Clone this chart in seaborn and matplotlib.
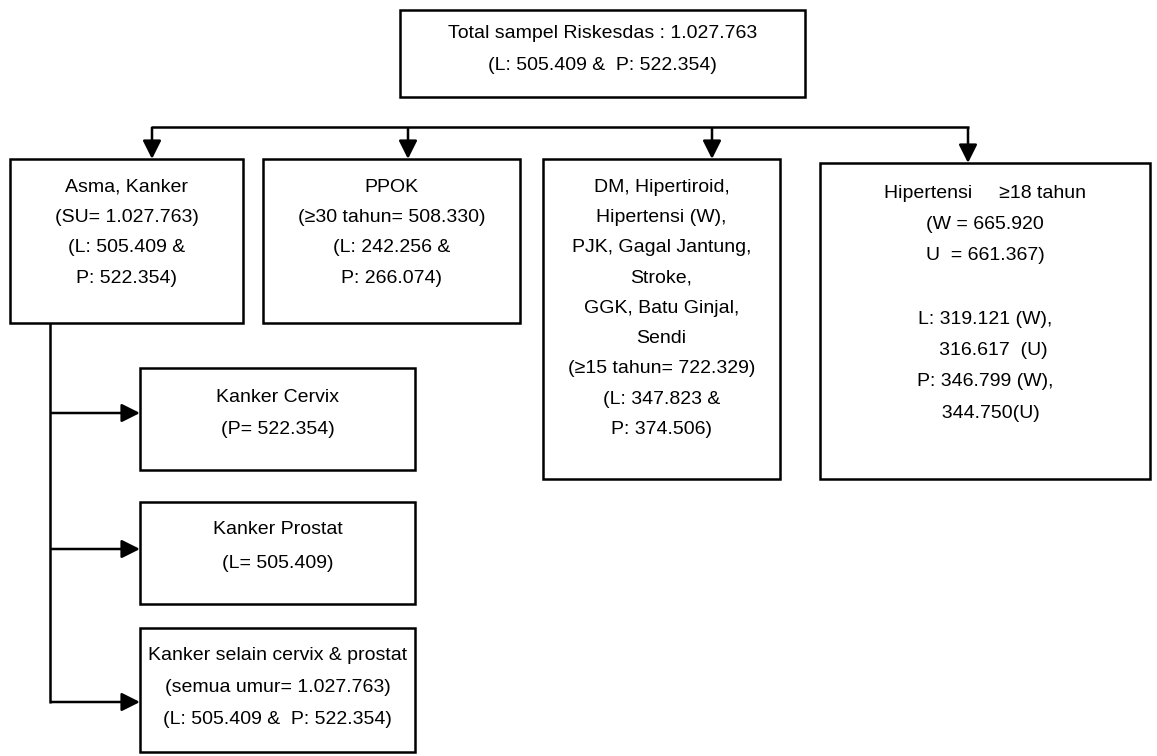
import matplotlib
matplotlib.use('Agg')
import matplotlib.pyplot as plt
import seaborn as sns
from matplotlib import font_manager
from matplotlib.patches import Rectangle

sns.set_theme(style='white')

# pilih font sempit bila ada (mirip Arial Narrow)
names = {f.name for f in font_manager.fontManager.ttflist}
if 'Liberation Sans Narrow' in names:
    FONT = ['Liberation Sans Narrow', 'DejaVu Sans']
    FS = 15
else:
    FONT = ['Liberation Sans', 'DejaVu Sans']
    FS = 14
plt.rcParams['font.family'] = FONT

# isi kotak
top_text = ['Total sampel Riskesdas : 1.027.763',
            '(L: 505.409 &  P: 522.354)']
asma_text = ['Asma, Kanker', '(SU= 1.027.763)', '(L: 505.409 &', 'P: 522.354)']
ppok_text = ['PPOK', '(≥30 tahun= 508.330)', '(L: 242.256 &', 'P: 266.074)']
dm_text = ['DM, Hipertiroid,', 'Hipertensi (W),', 'PJK, Gagal Jantung,', 'Stroke,',
           'GGK, Batu Ginjal,', 'Sendi', '(≥15 tahun= 722.329)',
           '(L: 347.823 &', 'P: 374.506)']
hip_text = ['Hipertensi     ≥18 tahun', '(W = 665.920', 'U  = 661.367)', '',
            'L: 319.121 (W),', '   316.617  (U)', 'P: 346.799 (W),', '  344.750(U)']
cervix_text = ['Kanker Cervix', '(P= 522.354)']
prostat_text = ['Kanker Prostat', '(L= 505.409)']
lain_text = ['Kanker selain cervix & prostat', '(semua umur= 1.027.763)',
             '(L: 505.409 &  P: 522.354)']

fig = plt.figure(figsize=(11.57, 7.56), dpi=100)
ax = fig.add_axes([0, 0, 1, 1])
ax.set_xlim(0, 1157)
ax.set_ylim(756, 0)
ax.axis('off')

LW = 1.8


def kotak(x0, y0, x1, y1, lines, gap=30.5, pad=28):
    ax.add_patch(Rectangle((x0, y0), x1 - x0, y1 - y0, fill=False,
                           edgecolor='black', lw=LW))
    cx = (x0 + x1) / 2
    for i, s in enumerate(lines):
        ax.text(cx, y0 + pad + i * gap, s, ha='center', va='center',
                fontsize=FS, color='black')


def panah(x0, y0, x1, y1):
    ax.annotate('', xy=(x1, y1), xytext=(x0, y0),
                arrowprops=dict(arrowstyle='-|>', mutation_scale=28, lw=LW,
                                color='black', shrinkA=0, shrinkB=0,
                                capstyle='butt'))


kotak(400, 10, 805, 97, top_text, gap=32, pad=24)
kotak(10, 159, 243, 323, asma_text)
kotak(263, 159, 520, 323, ppok_text)
kotak(543, 159, 780, 479, dm_text, gap=30.3)
kotak(820, 163, 1150, 479, hip_text, gap=31.5, pad=30)
kotak(140, 368, 415, 470, cervix_text, gap=33, pad=29)
kotak(140, 502, 415, 604, prostat_text, gap=33, pad=28)
kotak(140, 628, 415, 752, lain_text, gap=32.5, pad=27)

# garis penghubung atas
ax.plot([151, 969], [127, 127], color='black', lw=LW, solid_capstyle='butt')
for xa, yb in [(152, 159), (408, 159), (712, 159), (968, 163)]:
    panah(xa, 127, xa, yb)

# cabang kanker
ax.plot([50, 50], [323, 703], color='black', lw=LW, solid_capstyle='butt')
for yb in [413, 549, 702]:
    panah(50, yb, 140, yb)

plt.savefig('out.png', dpi=100)
